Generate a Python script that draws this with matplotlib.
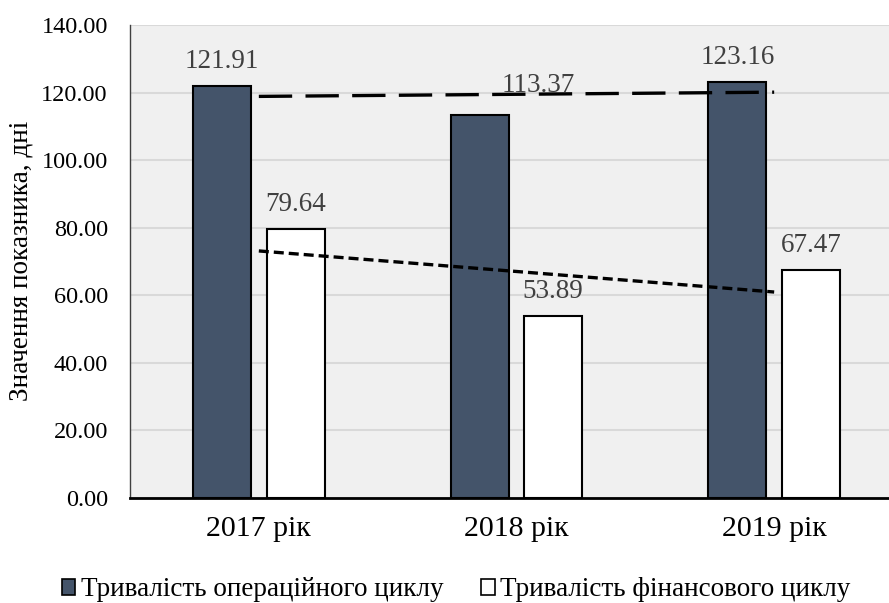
import numpy as np
import matplotlib.pyplot as plt
from matplotlib.patches import Patch

plt.rcParams['font.family'] = ['Liberation Serif', 'DejaVu Serif']

YEARS = ['2017 рік', '2018 рік', '2019 рік']
OPER = [121.91, 113.37, 123.16]
FIN = [79.64, 53.89, 67.47]
NAMES = ['Тривалість операційного циклу', 'Тривалість фінансового циклу']

DARK = '#44546a'
LABEL_GRAY = '#404040'

fig = plt.figure(figsize=(8.89, 6.03), dpi=100)
W, H = 889, 603
# plot area runs past the right edge of the picture, as in the reference
ax = fig.add_axes([130 / W, (H - 497.7) / H, 773 / W, 472.7 / H])
ax.set_facecolor('#f0f0f0')

x = np.arange(len(YEARS))
bw = 0.225
off = 0.1425

b1 = ax.bar(x - off, OPER, bw, color=DARK, edgecolor='black', linewidth=1.5, zorder=3)
b2 = ax.bar(x + off, FIN, bw, color='white', edgecolor='black', linewidth=1.5, zorder=3)

# linear trend lines
k1 = np.polyfit(x, OPER, 1)
k2 = np.polyfit(x, FIN, 1)
ax.plot(x, np.polyval(k1, x), color='black', lw=2.4, dashes=(10, 4),
        solid_capstyle='butt', dash_capstyle='butt', zorder=5)
ax.plot(x, np.polyval(k2, x), color='black', lw=2.4, dashes=(3, 1.5),
        solid_capstyle='butt', dash_capstyle='butt', zorder=5)

# data labels
for i, v in enumerate(OPER):
    dx, dy = 0, 13
    if i == 1:
        dx, dy = 42, 16.5
    ax.annotate(f'{v:.2f}', (x[i] - off, v), xytext=(dx, dy), textcoords='offset points',
                ha='center', va='baseline', fontsize=19.5, color=LABEL_GRAY, zorder=4)
for i, v in enumerate(FIN):
    ax.annotate(f'{v:.2f}', (x[i] + off, v), xytext=(0, 13), textcoords='offset points',
                ha='center', va='baseline', fontsize=19.5, color=LABEL_GRAY, zorder=4)

ax.set_xlim(-0.5, 2.5)
ax.set_ylim(0, 140)
ax.set_yticks(np.arange(0, 141, 20))
ax.set_yticklabels([f'{t:.2f}' for t in np.arange(0, 141, 20)], fontsize=17.5)
ax.set_xticks(x)
ax.set_xticklabels(YEARS, fontsize=21.5)
ax.tick_params(axis='both', length=0)
ax.tick_params(axis='y', pad=16)
ax.tick_params(axis='x', pad=13)

ax.grid(axis='y', color='#d9d9d9', linewidth=1.5, zorder=0)
ax.set_axisbelow(True)
for s in ['top', 'right']:
    ax.spines[s].set_visible(False)
ax.spines['left'].set_linewidth(1.0)
ax.spines['left'].set_color('#404040')
ax.spines['bottom'].set_linewidth(2.0)
ax.spines['bottom'].set_color('black')
ax.spines['bottom'].set_zorder(6)

ax.set_ylabel('Значення показника, дні', fontsize=19.5)
ax.yaxis.set_label_coords(-96 / 773, 0.5)

handles = [Patch(facecolor=DARK, edgecolor='black', linewidth=1.2),
           Patch(facecolor='white', edgecolor='black', linewidth=1.2)]
fig.legend(handles, NAMES, loc='center', bbox_to_anchor=(456 / W, 1 - 590 / H),
           ncol=2, frameon=False, fontsize=19.5, handlelength=0.5, handleheight=0.5,
           handletextpad=0.2, columnspacing=1.4, borderaxespad=0, borderpad=0)

fig.savefig('out.png', dpi=100)
